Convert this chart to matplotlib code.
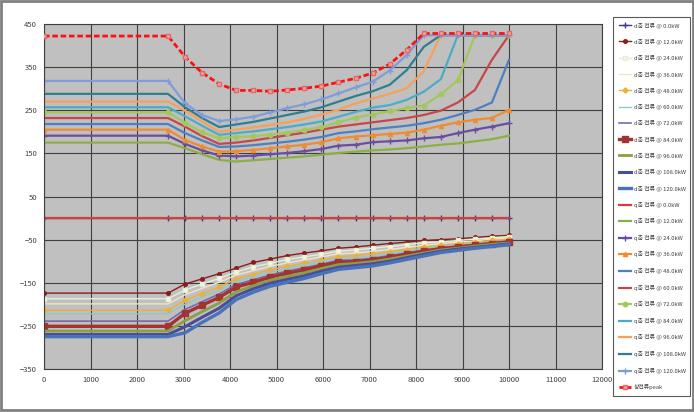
import matplotlib
matplotlib.use("Agg")
import matplotlib.pyplot as plt
from matplotlib.patches import Rectangle

plt.rcParams['font.family'] = ['Noto Sans CJK KR', 'DejaVu Sans']

# speed axis (rpm)
speed = [0, 2667, 3033, 3400, 3767, 4133, 4500, 4867, 5233, 5600, 5967, 6333,
         6700, 7067, 7433, 7800, 8167, 8533, 8900, 9267, 9633, 10000]

power_labels = ['0.0', '12.0', '24.0', '36.0', '48.0', '60.0', '72.0', '84.0', '96.0', '108.0', '120.0']

# d-axis currents (negative)
d_0 = [0] * 22
d_12 = [-174, -174, -153, -141, -129, -116, -103, -95, -87, -81, -76, -70, -67, -63, -59, -56, -52, -50, -48, -45, -42, -40]
d_24 = [-187, -187, -167, -153, -140, -125, -113, -105, -96, -90, -84, -77, -74, -70, -66, -62, -57, -55, -52, -49, -46, -43]
d_36 = [-199, -199, -178, -163, -149, -132, -122, -112, -104, -97, -90, -83, -81, -77, -73, -68, -63, -59, -56, -53, -49, -47]
d_48 = [-214, -214, -191, -175, -160, -141, -131, -120, -112, -105, -97, -90, -87, -83, -78, -73, -67, -63, -59, -56, -52, -49]
d_60 = [-222, -222, -200, -183, -167, -147, -136, -125, -117, -109, -101, -94, -92, -88, -82, -77, -71, -66, -62, -58, -55, -51]
d_72 = [-239, -239, -212, -194, -176, -154, -143, -132, -123, -115, -107, -98, -97, -93, -87, -81, -74, -69, -65, -61, -57, -54]
d_84 = [-251, -251, -221, -202, -184, -160, -149, -137, -128, -120, -111, -102, -101, -97, -91, -84, -77, -71, -67, -63, -59, -55]
d_96 = [-262, -262, -238, -217, -197, -171, -157, -144, -135, -127, -117, -108, -105, -101, -95, -88, -81, -74, -70, -65, -61, -58]
d_108 = [-270, -270, -252, -230, -209, -180, -164, -151, -142, -134, -123, -114, -110, -106, -100, -92, -84, -77, -72, -68, -64, -60]
d_120 = [-275, -275, -266, -242, -220, -189, -172, -158, -149, -140, -129, -119, -115, -111, -104, -96, -88, -80, -75, -70, -66, -62]

# q-axis currents (positive)
q_0 = [0] * 22
q_12 = [175, 175, 162, 148, 135, 131, 134, 137, 140, 143, 147, 151, 154, 157, 159, 162, 166, 170, 173, 178, 183, 191]
q_24 = [191, 191, 172, 157, 145, 143, 145, 148, 151, 155, 160, 168, 170, 176, 178, 180, 185, 188, 197, 205, 212, 220]
q_36 = [205, 205, 181, 166, 154, 155, 158, 162, 166, 170, 176, 185, 189, 192, 195, 198, 205, 214, 222, 228, 232, 251]
q_48 = [218, 218, 197, 180, 165, 166, 169, 173, 177, 182, 188, 197, 201, 206, 210, 214, 220, 228, 239, 251, 268, 367]
q_60 = [232, 232, 212, 190, 172, 175, 180, 186, 192, 198, 205, 212, 217, 222, 227, 232, 239, 249, 268, 297, 367, 424]
q_72 = [245, 245, 221, 199, 185, 188, 190, 193, 198, 204, 211, 222, 233, 240, 248, 255, 261, 287, 319, 424, 424, 424]
q_84 = [257, 257, 236, 214, 193, 197, 201, 206, 211, 217, 224, 235, 246, 256, 262, 274, 293, 322, 424, 424, 424, 424]
q_96 = [270, 270, 249, 224, 200, 205, 210, 216, 222, 230, 240, 251, 266, 277, 288, 301, 340, 424, 424, 424, 424, 424]
q_108 = [288, 288, 257, 232, 211, 217, 223, 231, 239, 247, 257, 270, 283, 294, 309, 343, 397, 424, 424, 424, 424, 424]
q_120 = [318, 318, 266, 239, 225, 229, 235, 245, 255, 264, 275, 289, 303, 316, 342, 378, 424, 424, 424, 424, 424, 424]

# phase current peak
peak = [422, 422, 374, 337, 311, 296, 296, 294, 297, 301, 306, 315, 324, 336, 357, 390, 428, 428, 428, 428, 428, 428]

d_series = [d_0, d_12, d_24, d_36, d_48, d_60, d_72, d_84, d_96, d_108, d_120]
q_series = [q_0, q_12, q_24, q_36, q_48, q_60, q_72, q_84, q_96, q_108, q_120]

d_colors = ['#3B3B8E', '#8B1C1C', '#E2F0D6', '#F6E2C4', '#F0AE35', '#8CC8CC',
            '#7A6AA8', '#A33232', '#8AA046', '#4A4E9A', '#4A72B8']
d_styles = [dict(marker='+', ms=4, lw=1.0),
            dict(marker='o', ms=2.6, lw=1.0),
            dict(marker='s', ms=3.0, lw=1.0, mfc='#F2F8EA'),
            dict(marker=None, lw=1.0),
            dict(marker='D', ms=2.6, lw=1.0),
            dict(marker=None, lw=1.0),
            dict(marker=None, lw=1.2),
            dict(marker='s', ms=3.8, lw=2.4),
            dict(marker=None, lw=2.0),
            dict(marker=None, lw=2.2),
            dict(marker=None, lw=2.4)]

q_colors = ['#D0403C', '#8AAF45', '#6A4E9E', '#F08C30', '#4F7FC0', '#C8464A',
            '#A2C85C', '#4BACC6', '#F5A15A', '#2E7F8F', '#7F9CDB']
q_styles = [dict(marker=None, lw=1.6),
            dict(marker=None, lw=1.6),
            dict(marker='+', ms=4, lw=1.6),
            dict(marker='^', ms=3.0, lw=1.6),
            dict(marker=None, lw=1.6),
            dict(marker=None, lw=1.6),
            dict(marker='o', ms=3.2, lw=1.6),
            dict(marker=None, lw=1.6),
            dict(marker=None, lw=1.6),
            dict(marker=None, lw=1.6),
            dict(marker='+', ms=4, lw=1.6)]

fig = plt.figure(figsize=(6.94, 4.12), dpi=100)
fig.patch.set_facecolor('white')
ax = fig.add_axes([44 / 694, 1 - 369 / 412, 558 / 694, 345 / 412])
ax.set_facecolor('#C0C0C0')

handles = []
for i, (vals, c, st) in enumerate(zip(d_series, d_colors, d_styles)):
    h, = ax.plot(speed, vals, color=c, zorder=2 + i * 0.01,
                 label='d축 전류 @ %skW' % power_labels[i], **st)
    handles.append(h)
for i, (vals, c, st) in enumerate(zip(q_series, q_colors, q_styles)):
    h, = ax.plot(speed, vals, color=c, zorder=2.2 + i * 0.01,
                 label='q축 전류 @ %skW' % power_labels[i], **st)
    handles.append(h)
h, = ax.plot(speed, peak, color='#FF1010', lw=2.0, ls=(0, (2, 1)), marker='s', ms=3.3,
             mfc='#F2A0A0', mec='#E06868', zorder=3, label='상전류peak')
handles.append(h)

ax.set_xlim(0, 12000)
ax.set_ylim(-350, 450)
ax.set_xticks(range(0, 12001, 1000))
ax.set_yticks(range(-350, 451, 100))
ax.grid(True, color='#404040', lw=0.8)
ax.set_axisbelow(True)
ax.tick_params(labelsize=5.5, labelcolor='#404040', length=0, pad=5)
for s in ax.spines.values():
    s.set_color('#404040')
    s.set_linewidth(0.8)

leg = fig.legend(handles=handles, loc='upper left',
                 bbox_to_anchor=(613 / 694, 1 - 17 / 412, 77 / 694, 0.0),
                 mode='expand', fontsize=4.2, frameon=True, fancybox=False,
                 edgecolor='#303030', handlelength=2.2, labelspacing=1.82,
                 borderpad=0.95, handletextpad=0.4, borderaxespad=0)
leg.get_frame().set_linewidth(0.8)
for t in leg.get_texts():
    t.set_color('#404040')

fig.patches.append(Rectangle((0.002, 0.004), 0.996, 0.993, transform=fig.transFigure,
                             fill=False, edgecolor='#808080', lw=2))

fig.savefig('out.png', dpi=100)
